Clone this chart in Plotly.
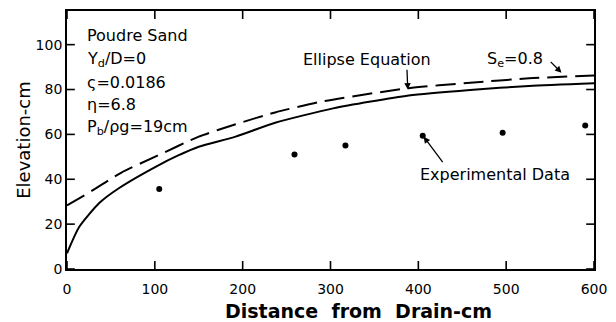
import plotly.graph_objects as go

# Water-table profile, Poudre sand
solid_x = [0, 14, 37, 59, 103, 126, 150, 192, 237, 303, 389, 459, 526, 600]
solid_y = [7, 18.8, 29.5, 36, 46, 50.5, 54.5, 59, 65.2, 71.6, 77.3, 79.8, 81.6, 82.8]

dash_x = [0, 29, 62, 103, 150, 192, 237, 292, 389, 459, 526, 600]
dash_y = [28.3, 35, 43, 50.5, 59, 64.5, 69.8, 74.8, 80.6, 83, 85, 86.3]

exp_x = [105, 259, 317, 405, 496, 590]
exp_y = [35.7, 51, 55, 59.4, 60.7, 64]

x_ticks = [0, 100, 200, 300, 400, 500, 600]
y_ticks = [0, 20, 40, 60, 80, 100]

FONT = "DejaVu Sans"
TXT = dict(family=FONT, size=16, color="black")
TICK_PX = 8
PLOT_W, PLOT_H = 540, 258

fig = go.Figure()
fig.add_trace(go.Scatter(x=solid_x, y=solid_y, mode="lines",
                         line=dict(color="black", width=2, shape="spline", smoothing=0.6)))
fig.add_trace(go.Scatter(x=dash_x, y=dash_y, mode="lines",
                         line=dict(color="black", width=2, dash="20px,8px", shape="spline", smoothing=0.6)))
fig.add_trace(go.Scatter(x=exp_x, y=exp_y, mode="markers", marker=dict(color="black", size=6)))

axis_common = dict(
    showline=True, linecolor="black", linewidth=1.8, mirror=True,
    ticks="", showgrid=False, zeroline=False,
    ticklabeloverflow="allow",
    tickfont=dict(family=FONT, size=14, color="black"),
)

fig.update_layout(
    width=616, height=322,
    margin=dict(l=67, r=9, t=11, b=53),
    paper_bgcolor="white", plot_bgcolor="white",
    showlegend=False,
    xaxis=dict(range=[0, 600], tickvals=x_ticks, ticklabelstandoff=6, **axis_common),
    yaxis=dict(range=[0, 115], tickvals=y_ticks, ticksuffix="   ",
               title=dict(text="Elevation-cm", font=dict(family=FONT, size=18, color="black"), standoff=0),
               **axis_common),
)

# inward tick marks on all four sides of the frame
tick_line = dict(color="black", width=1.6)
for v in x_ticks:
    fig.add_shape(type="line", xref="x", yref="paper", x0=v, x1=v, y0=0, y1=TICK_PX / PLOT_H, line=tick_line)
    fig.add_shape(type="line", xref="x", yref="paper", x0=v, x1=v, y0=1, y1=1 - TICK_PX / PLOT_H, line=tick_line)
for v in y_ticks:
    fig.add_shape(type="line", xref="paper", yref="y", x0=0, x1=TICK_PX / PLOT_W, y0=v, y1=v, line=tick_line)
    fig.add_shape(type="line", xref="paper", yref="y", x0=1, x1=1 - TICK_PX / PLOT_W, y0=v, y1=v, line=tick_line)

# x-axis title, placed under the tick labels
fig.add_annotation(x=(366 - 67) / PLOT_W, xref="paper", y=-(311 - 269) / PLOT_H, yref="paper",
                   yanchor="middle", text="<b>Distance  from  Drain-cm</b>", showarrow=False,
                   font=dict(family=FONT, size=19, color="black"))

params = ["Poudre Sand", "Y<sub>d</sub>/D=0", "ς=0.0186", "η=6.8", "P<sub>b</sub>/ρg=19cm"]
param_py = [35, 59, 82, 104, 127]
for t, py in zip(params, param_py):
    fig.add_annotation(x=0.035, xref="paper", y=(269 - py) / PLOT_H, yref="paper",
                       yanchor="middle", xanchor="left", text=t, showarrow=False, font=TXT)

fig.add_annotation(x=342, y=93.3, text="Ellipse Equation", showarrow=False, font=TXT)
fig.add_annotation(x=388, y=80, ax=387, ay=89.5, axref="x", ayref="y", text="",
                   showarrow=True, arrowhead=2, arrowsize=1, arrowwidth=1.3, arrowcolor="black")

fig.add_annotation(x=510, y=93.5, text="S<sub>e</sub>=0.8", showarrow=False, font=TXT)
fig.add_annotation(x=563, y=87.5, ax=549, ay=93, axref="x", ayref="y", text="",
                   showarrow=True, arrowhead=2, arrowsize=1, arrowwidth=1.3, arrowcolor="black")

fig.add_annotation(x=487, y=42, text="Experimental Data", showarrow=False, font=TXT)
fig.add_annotation(x=406, y=59, ax=429, ay=47, axref="x", ayref="y", text="",
                   showarrow=True, arrowhead=2, arrowsize=1, arrowwidth=1.3, arrowcolor="black")

fig.write_html("out.html")
